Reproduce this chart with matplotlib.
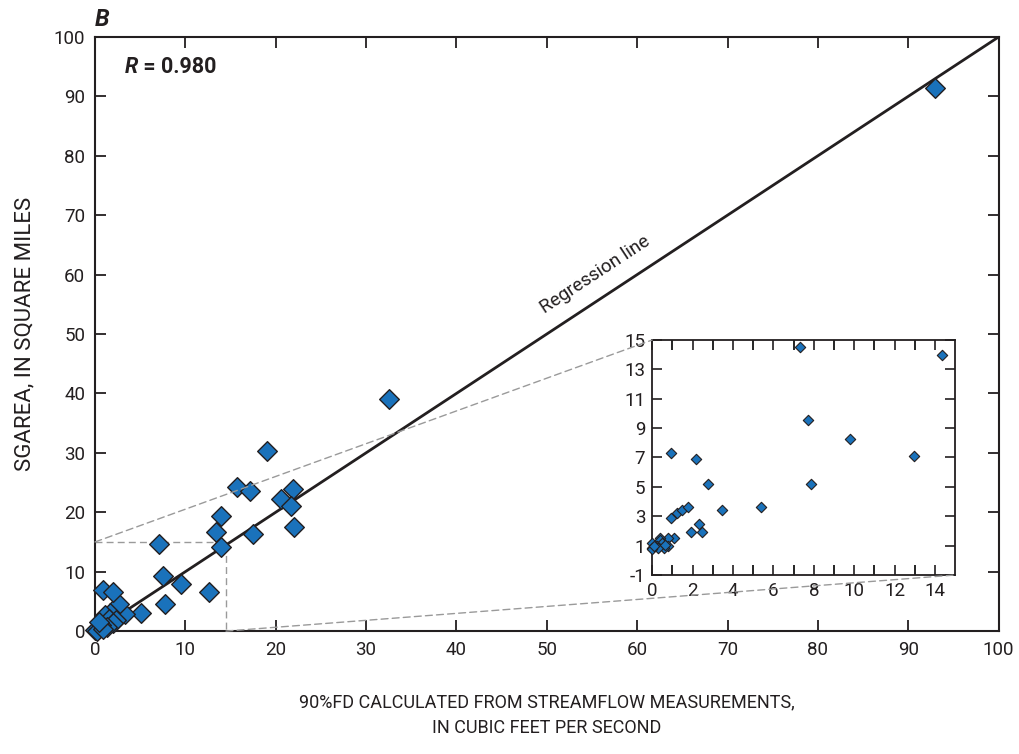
import matplotlib
matplotlib.use("Agg")
import matplotlib.pyplot as plt
from matplotlib.patches import ConnectionPatch
from matplotlib.ticker import MultipleLocator

plt.rcParams['font.family'] = ['Roboto', 'DejaVu Sans']
plt.rcParams['axes.unicode_minus'] = False

# 主图数据 (90%FD, SGAREA)
main_x = [93.0, 32.5, 19.0, 15.7, 17.2, 21.9, 20.6, 21.7, 22.0, 17.5, 13.9, 13.4,
          13.9, 7.1, 7.5, 7.7, 9.5, 12.6, 5.1, 3.3, 2.7, 0.9, 2.0, 1.7, 1.1, 1.5,
          2.3, 2.0, 1.3, 0.7, 0.4, 0.0, 0.2, 0.9, 0.5]
main_y = [91.4, 39.1, 30.3, 24.2, 23.6, 23.9, 22.2, 21.0, 17.5, 16.3, 19.4, 16.7,
          14.1, 14.6, 9.3, 4.6, 8.0, 6.6, 3.0, 2.9, 4.6, 6.9, 6.5, 3.1, 2.7, 2.1,
          1.9, 1.3, 0.7, 1.0, 0.5, 0.2, 0.0, 0.3, 1.5]

# 放大图数据
inset_x = [7.3, 14.36, 7.71, 9.8, 12.97, 7.86, 5.38, 3.44, 2.75, 2.18, 0.93, 0.93,
           1.21, 1.49, 1.79, 1.9, 2.33, 2.46, 1.08, 0.8, 0.8, 0.41, 0.41, 0.5, 0.6,
           0.25, 0.3, 0.0, 0.0, 0.0, 0.1, 0.65]
inset_y = [14.5, 13.98, 9.55, 8.24, 7.1, 5.18, 3.65, 3.43, 5.18, 6.9, 7.29, 2.86,
           3.24, 3.43, 3.65, 1.93, 2.48, 1.93, 1.54, 1.54, 0.98, 1.54, 1.39, 1.2, 0.83,
           1.0, 0.85, 1.2, 0.85, 0.75, 1.0, 1.05]

# 回归线端点
reg_x = [0.5, 100]
reg_y = [0.5, 100]

# 放大区域
zoom_x = 14.5
zoom_y = 15

blue = '#1a72bb'
dark = '#231f20'
grey = '#9a9a9a'

fig = plt.figure(figsize=(10.19, 7.54), dpi=100)
ax = fig.add_axes([0.0932, 0.163, 0.8868, 0.788])

ax.plot(reg_x, reg_y, color=dark, lw=2, zorder=2)
ax.scatter(main_x, main_y, marker='D', s=100, color=blue, edgecolor=dark,
           linewidth=1, zorder=3, clip_on=False)

# 虚线框
ax.plot([0, zoom_x, zoom_x], [zoom_y, zoom_y, 0], color=grey, lw=1,
        ls=(0, (5, 3)), zorder=1)

ax.set_xlim(0, 100)
ax.set_ylim(0, 100)
ax.xaxis.set_major_locator(MultipleLocator(10))
ax.yaxis.set_major_locator(MultipleLocator(10))
ax.tick_params(direction='in', length=8, width=1.3, top=True, right=True,
               labelsize=13.5, colors=dark, pad=7)
for s in ax.spines.values():
    s.set_linewidth(1.5)
    s.set_color(dark)

ax.set_ylabel('SGAREA, IN SQUARE MILES', fontsize=16, labelpad=13, color=dark)
ax.set_xlabel('90%FD CALCULATED FROM STREAMFLOW MEASUREMENTS,\nIN CUBIC FEET PER SECOND',
              fontsize=13, labelpad=25, color=dark, linespacing=1.5)

ax.text(0.0, 1.01, 'B', transform=ax.transAxes, fontsize=17, fontweight='bold',
        style='italic', ha='left', va='bottom', color=dark)
r_txt = ax.text(0.033, 0.95, 'R', transform=ax.transAxes, fontsize=15.5,
                fontweight='bold', style='italic', ha='left', va='center', color=dark)
ax.annotate(' = 0.980', xy=(1, 0.5), xycoords=r_txt, fontsize=15.5, fontweight='bold',
            ha='left', va='center', color=dark)

ax.text(55.4, 60.0, 'Regression line', fontsize=13.5, rotation=33.3,
        ha='center', va='center', rotation_mode='anchor', color=dark)

# 放大图
ax_in = fig.add_axes([0.640, 0.2374, 0.2974, 0.3117])
ax_in.scatter(inset_x, inset_y, marker='D', s=28, color=blue, edgecolor=dark,
              linewidth=0.8, zorder=3, clip_on=False)
ax_in.set_xlim(0, 15)
ax_in.set_ylim(-1, 15)
ax_in.set_xticks(range(0, 15, 2))
ax_in.set_xticks(range(1, 15, 2), minor=True)
ax_in.set_yticks(range(-1, 16, 2))
ax_in.tick_params(direction='in', length=7, width=1.2, top=True, right=True,
                  labelsize=13.5, colors=dark, pad=5)
ax_in.tick_params(which='minor', direction='in', length=7, width=1.2, top=True)
for s in ax_in.spines.values():
    s.set_linewidth(1.3)
    s.set_color(dark)

# 连接虚线
for xa, xb in [((0, zoom_y), (0, 1)), ((zoom_x, 0), (1, 0))]:
    con = ConnectionPatch(xyA=xa, coordsA=ax.transData, xyB=xb, coordsB=ax_in.transAxes,
                          color=grey, lw=1, ls=(0, (5, 3)), zorder=1)
    fig.add_artist(con)

fig.savefig('out.png', dpi=100)
